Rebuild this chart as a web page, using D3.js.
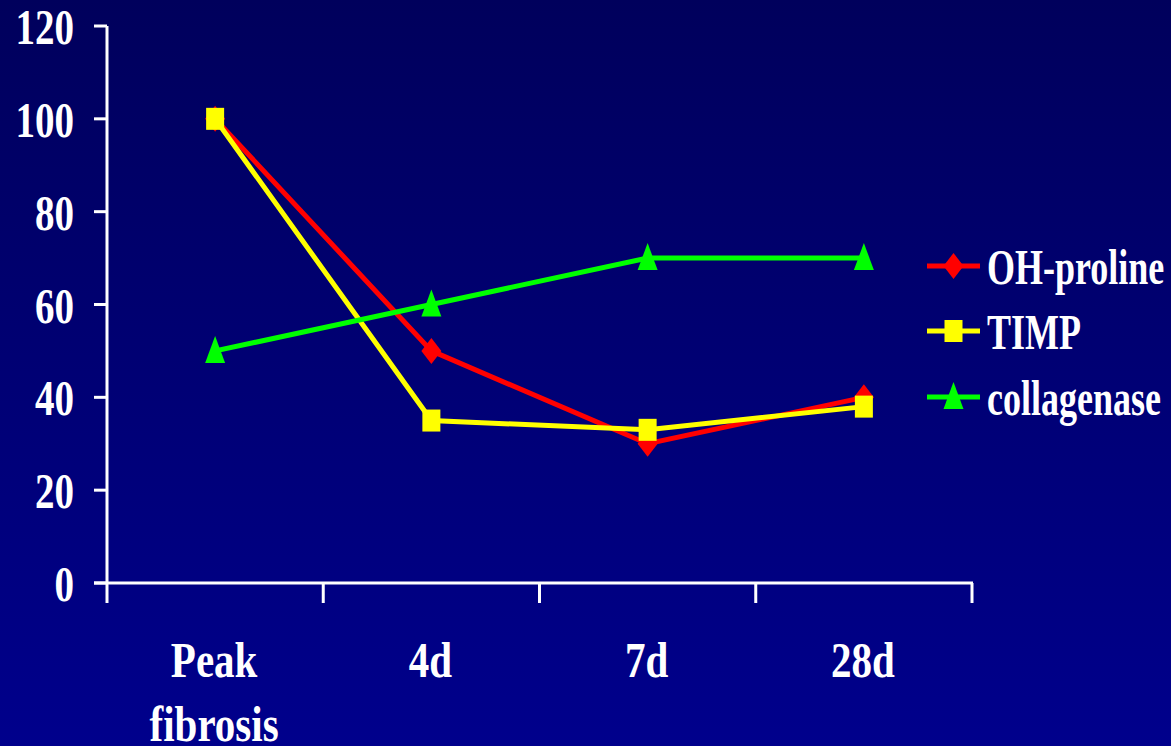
<!DOCTYPE html>
<html><head><meta charset="utf-8">
<script src="https://cdn.jsdelivr.net/npm/d3@7"></script>
<style>html,body{margin:0;padding:0;background:#000070;}svg{display:block;}</style>
</head><body>
<script>
const categories = [["Peak","fibrosis"],["4d"],["7d"],["28d"]];
const categoryKeys = ["Peak fibrosis","4d","7d","28d"];
const ohProline = [100, 50, 30, 40];
const timp = [100, 35, 33, 38];
const collagenase = [50, 60, 70, 70];
const yTicks = [0, 20, 40, 60, 80, 100, 120];
const seriesNames = ["OH-proline","TIMP","collagenase"];
const seriesColors = ["#FF0000","#FFFF00","#00FF00"];
const seriesShapes = ["diamond","square","triangle"];

const W = 1171, H = 746;
const svg = d3.select("body").append("svg").attr("width", W).attr("height", H);
const defs = svg.append("defs");
const grad = defs.append("linearGradient").attr("id","bg").attr("x1",0).attr("y1",0).attr("x2",0).attr("y2",1);
grad.append("stop").attr("offset","0%").attr("stop-color","#00005C");
grad.append("stop").attr("offset","100%").attr("stop-color","#00008C");
svg.append("rect").attr("width",W).attr("height",H).attr("fill","url(#bg)");

const x = d3.scaleBand().domain(categoryKeys).range([107, 972]);
const y = d3.scaleLinear().domain([0, 120]).range([583, 26]);

const FONT = "'Liberation Serif','Times New Roman',serif";

function scaledText(g, tx, ty, str, anchor, size, sx) {
  const t = g.append("g").attr("transform", `translate(${tx},${ty}) scale(${sx},1)`);
  t.append("text").attr("text-anchor", anchor).attr("font-family", FONT)
    .attr("font-weight","bold").attr("font-size", size).attr("fill","#FFFFFF").text(str);
}

// Y axis
const yAxis = svg.append("g");
yAxis.append("line").attr("x1",107).attr("x2",107).attr("y1",y(120)).attr("y2",y(0))
  .attr("stroke","#fff").attr("stroke-width",3);
yTicks.forEach(v => {
  yAxis.append("line").attr("x1",94).attr("x2",107).attr("y1",y(v)).attr("y2",y(v))
    .attr("stroke","#fff").attr("stroke-width",3);
  scaledText(yAxis, 74, y(v) + 18, String(v), "end", 50, 0.78);
});

// X axis
const xAxis = svg.append("g");
xAxis.append("line").attr("x1",94).attr("x2",973).attr("y1",y(0)).attr("y2",y(0))
  .attr("stroke","#fff").attr("stroke-width",3);
const bounds = categoryKeys.map(k => x(k)).concat([x(categoryKeys[3]) + x.bandwidth()]);
bounds.forEach(b => {
  xAxis.append("line").attr("x1",b).attr("x2",b).attr("y1",y(0)).attr("y2",y(0)+20)
    .attr("stroke","#fff").attr("stroke-width",3);
});
categoryKeys.forEach((k, i) => {
  const cx = x(k) + x.bandwidth()/2;
  categories[i].forEach((line, j) => {
    scaledText(xAxis, cx - 1, 677 + j*64, line, "middle", 50, 0.82);
  });
});

const seriesData = [ohProline, timp, collagenase];

function drawMarker(g, shape, cx, cy, color) {
  if (shape === "diamond") {
    g.append("path").attr("d", `M${cx},${cy-13} L${cx+10},${cy} L${cx},${cy+13} L${cx-10},${cy} Z`).attr("fill", color);
  } else if (shape === "square") {
    g.append("rect").attr("x", cx-9).attr("y", cy-11).attr("width",18).attr("height",22).attr("fill", color);
  } else {
    g.append("path").attr("d", `M${cx},${cy-15} L${cx+10},${cy+12} L${cx-10},${cy+12} Z`).attr("fill", color);
  }
}

const line = d3.line().x((d,i) => x(categoryKeys[i]) + x.bandwidth()/2).y(d => y(d));
seriesData.forEach((vals, s) => {
  const g = svg.append("g");
  g.append("path").datum(vals).attr("d", line).attr("fill","none")
    .attr("stroke", seriesColors[s]).attr("stroke-width",5).attr("stroke-linejoin","miter");
  vals.forEach((v, i) => drawMarker(g, seriesShapes[s], x(categoryKeys[i]) + x.bandwidth()/2, y(v), seriesColors[s]));
});

// Legend
const legendY = [266, 331, 397];
const leg = svg.append("g");
seriesNames.forEach((n, s) => {
  const ly = legendY[s];
  leg.append("line").attr("x1",927).attr("x2",980).attr("y1",ly).attr("y2",ly)
    .attr("stroke", seriesColors[s]).attr("stroke-width",5);
  drawMarker(leg, seriesShapes[s], 953.5, ly, seriesColors[s]);
  scaledText(leg, 987, ly + 18, n, "start", 50, 0.72);
});
</script>
</body></html>
